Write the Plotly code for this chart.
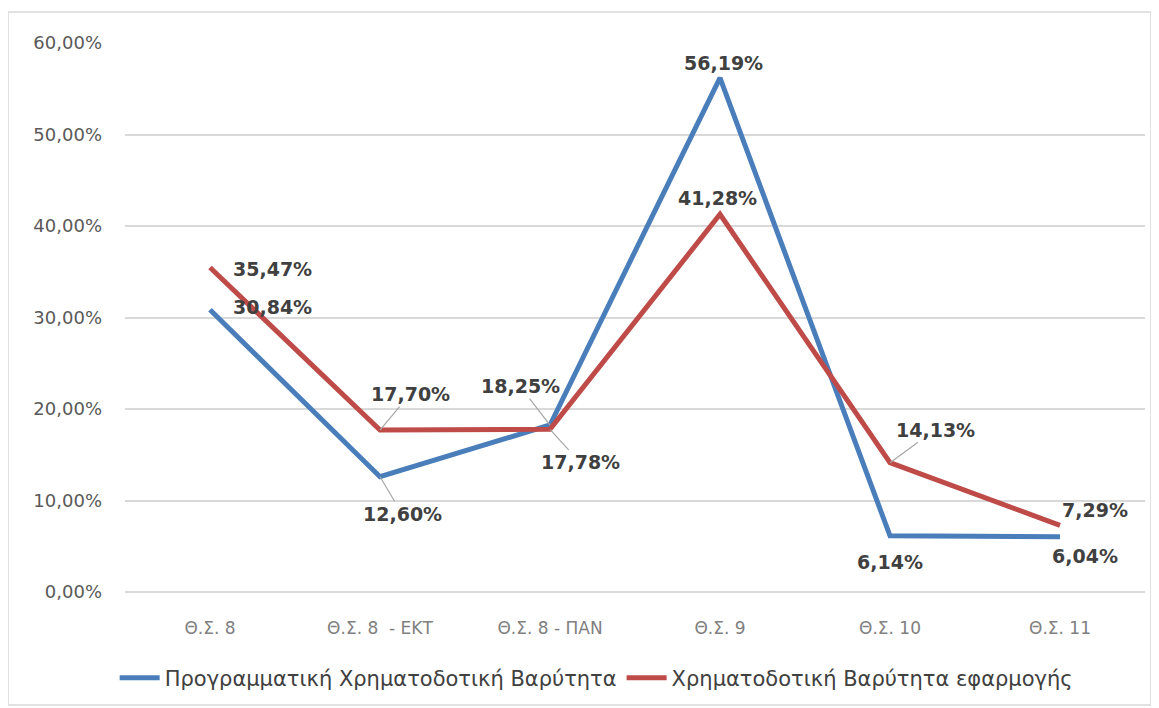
import plotly.graph_objects as go

categories = ["Θ.Σ. 8", "Θ.Σ. 8  - ΕΚΤ", "Θ.Σ. 8 - ΠΑΝ", "Θ.Σ. 9", "Θ.Σ. 10", "Θ.Σ. 11"]
planned = [30.84, 12.60, 18.25, 56.19, 6.14, 6.04]
applied = [35.47, 17.70, 17.78, 41.28, 14.13, 7.29]
name_planned = "Προγραμματική Χρηματοδοτική Βαρύτητα"
name_applied = "Χρηματοδοτική Βαρύτητα εφαρμογής"
y_ticks = [0, 10, 20, 30, 40, 50, 60]

BLUE = "#4a7ebb"
RED = "#be4b48"
# page body has an 8px margin; figure sized/placed to compensate
W, H = 1151, 700
ML, MR, MT, MB = 117, 14, 35, 116

def fmt(v):
    return f"{v:.2f}".replace(".", ",") + "%"

fig = go.Figure()
fig.add_trace(go.Scatter(x=categories, y=planned, mode="lines", name=name_planned,
                         line=dict(color=BLUE, width=5), hoverinfo="skip"))
fig.add_trace(go.Scatter(x=categories, y=applied, mode="lines", name=name_applied,
                         line=dict(color=RED, width=5), hoverinfo="skip"))

# label placement: (series, index, dx, dy, leader)
placements = [
    (planned, 0, 62, 3, False),
    (applied, 0, 62, -2, False),
    (applied, 1, 30, -36, True),
    (planned, 1, 22, 37, True),
    (planned, 2, -30, -39, True),
    (applied, 2, 30, 33, True),
    (planned, 3, 3, 15, False),
    (applied, 3, -3, 16, False),
    (applied, 4, 45, -33, True),
    (planned, 4, 0, -26, False),
    (applied, 5, 35, 15, False),
    (planned, 5, 25, -19, False),
]
lab_font = dict(family="DejaVu Sans", size=19, color="#404040")
for series, i, dx, dy, leader in placements:
    txt = "<b>" + fmt(series[i]) + "</b>"
    if leader:
        fig.add_annotation(x=categories[i], y=series[i], text=txt, showarrow=True,
                           ax=dx, ay=dy, arrowhead=0, arrowwidth=1.2, arrowcolor="#a6a6a6",
                           standoff=0, font=lab_font)
    else:
        fig.add_annotation(x=categories[i], y=series[i], text=txt, showarrow=False,
                           xshift=dx, yshift=dy, font=lab_font)

pw = W - ML - MR
ph = H - MT - MB
def px_to_paper_x(px):
    return (px - ML) / pw
def px_to_paper_y(py):
    return (H - MB - py) / ph

fig.add_shape(type="rect", xref="paper", yref="paper",
              x0=px_to_paper_x(0), x1=px_to_paper_x(1143),
              y0=px_to_paper_y(697), y1=px_to_paper_y(4),
              line=dict(color="#d9d9d9", width=1.5), fillcolor="rgba(0,0,0,0)", layer="below")

fig.update_layout(
    width=W, height=H,
    margin=dict(l=ML, r=MR, t=MT, b=MB),
    paper_bgcolor="white", plot_bgcolor="white",
    showlegend=True,
    legend=dict(orientation="h", xref="container", yref="container",
                x=0.511, y=1 - 670 / H, xanchor="center", yanchor="middle",
                font=dict(family="DejaVu Sans", size=21, color="#404040"),
                itemwidth=40, tracegroupgap=0),
    xaxis=dict(type="category", range=[-0.5, 5.5], showgrid=False, showline=False,
               zeroline=False, ticks="",
               tickfont=dict(family="DejaVu Sans", size=17, color="#808080"),
               ticklabelstandoff=24, fixedrange=True),
    yaxis=dict(range=[0, 60], tickvals=y_ticks, ticktext=[fmt(v) for v in y_ticks],
               showgrid=True, gridcolor="#d9d9d9", gridwidth=1.5,
               zeroline=True, zerolinecolor="#d9d9d9", zerolinewidth=1.5,
               showline=False, ticks="",
               tickfont=dict(family="DejaVu Sans", size=18, color="#595959"),
               ticklabelstandoff=22, fixedrange=True),
)

fig.write_html("out.html")
